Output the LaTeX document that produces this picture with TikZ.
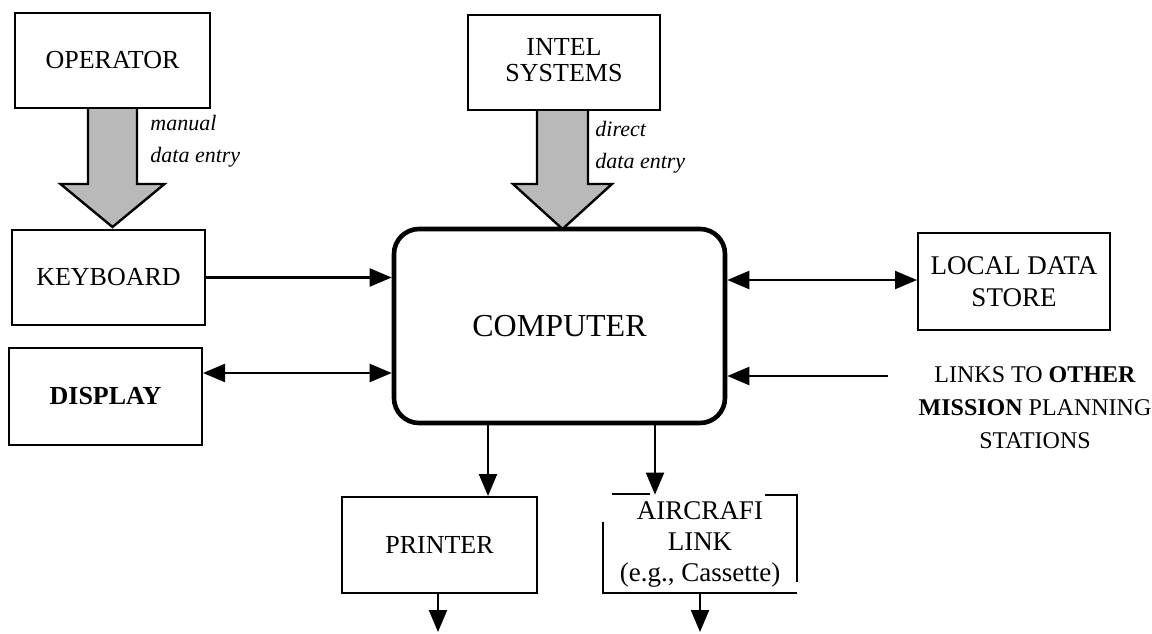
\documentclass[tikz,border=0pt]{standalone}
\usepackage{fontspec}
\setmainfont{Liberation Serif}
\usetikzlibrary{arrows.meta,calc}
\begin{document}
\begin{tikzpicture}[x=0.5pt,y=-0.5pt,
  box/.style={draw, line width=1pt, inner sep=0pt, align=center, font=\fontsize{13}{15}\selectfont},
  arr/.style={line width=1.1pt, -{Triangle[length=11pt,width=9pt]}},
  arrtwo/.style={line width=1.1pt, {Triangle[length=11pt,width=9pt]}-{Triangle[length=11pt,width=9pt]}},
  fatarrow/.style={draw, line width=1.2pt, fill=gray!55, line join=miter},
  lbl/.style={inner sep=0pt, align=left, anchor=west, font=\fontsize{11}{16}\selectfont\itshape},
  thinedge/.style={line width=1pt}]
\useasboundingbox (0,0) rectangle (1152,633);

% boxes
\node[box, minimum width=97.5pt, minimum height=47.5pt] (op) at (112.5,60.5) {OPERATOR};
\node[box, minimum width=96.5pt, minimum height=47.5pt] (kb) at (108.5,277.5) {KEYBOARD};
\node[box, minimum width=96.5pt, minimum height=48.5pt] (disp) at (105.5,396.5) {\bfseries DISPLAY};
\node[box, minimum width=96pt, minimum height=47.5pt] (intel) at (564,62.5) {\raisebox{-2.5pt}{\begin{tabular}{@{}c@{}}INTEL\\[-2pt]SYSTEMS\end{tabular}}};
\node[draw, line width=2.3pt, rounded corners=12.5pt, inner sep=0pt, minimum width=165.5pt, minimum height=97pt,
      font=\fontsize{16}{18}\selectfont] (comp) at (559.5,326) {COMPUTER};
\node[box, minimum width=96pt, minimum height=48.5pt, font=\fontsize{13.5}{16}\selectfont] (local) at (1014,281.5) {LOCAL DATA\\STORE};
\node[box, minimum width=97.5pt, minimum height=48pt] (printer) at (439.5,545) {PRINTER};
\node[inner sep=0pt, minimum width=97pt, minimum height=49pt, align=center,
      font=\fontsize{13.5}{15.5}\selectfont] (air) at (700,544) {AIRCRAFI\\LINK\\(e.g., Cassette)};
\node[inner sep=0pt, align=center, font=\fontsize{12}{16.5}\selectfont] (links) at (1035,408)
  {LINKS TO \textbf{OTHER}\\\textbf{MISSION} PLANNING\\STATIONS};

% broken outline of the aircraft link box
\draw[thinedge] ($(air.north west)+(0,27)$) -- (air.south west) -- (air.south east);
\draw[thinedge] ($(air.north west)+(9,-1)$) -- ($(air.north west)+(47,-1)$);
\draw[thinedge] ($(air.north east)+(-32,0)$) -- (air.north east) -- ($(air.south east)+(0,-11)$);

% fat arrows
\draw[fatarrow] (op.south) ++(-24.5,0) -- ++(0,75) -- ++(-27.5,0) -- ++(52,43) -- ++(52,-43) -- ++(-27.5,0) -- ++(0,-75);
\draw[fatarrow] (intel.south) ++(-27,0) -- ++(0,73) -- ++(-24,0) -- ++(49.5,45) -- ++(49.5,-45) -- ++(-24,0) -- ++(0,-73);
\node[lbl] (lman) at (150,141) {manual\\data entry};
\node[lbl] (ldir) at (595,147.5) {direct\\data entry};

% connectors
\draw[arr] (kb.east) -- (kb.east -| comp.west);
\coordinate (dy) at (300,373);
\draw[arrtwo] (dy -| disp.east) -- (dy -| comp.west);
\coordinate (ly) at (800,280);
\draw[arrtwo] (ly -| comp.east) -- (ly -| local.west);
\coordinate (lk) at (888,376);
\draw[arr] (lk) -- (lk -| comp.east);
\coordinate (px) at (488,450);
\draw[arr] (px |- comp.south) -- (px |- printer.north);
\coordinate (ax) at (655,450);
\draw[arr] (ax |- comp.south) -- (ax |- air.north);
\coordinate (po) at (438,632);
\draw[arr] (po |- printer.south) -- (po);
\coordinate (ao) at (700,632);
\draw[arr] (ao |- air.south) -- (ao);
\end{tikzpicture}
\end{document}
